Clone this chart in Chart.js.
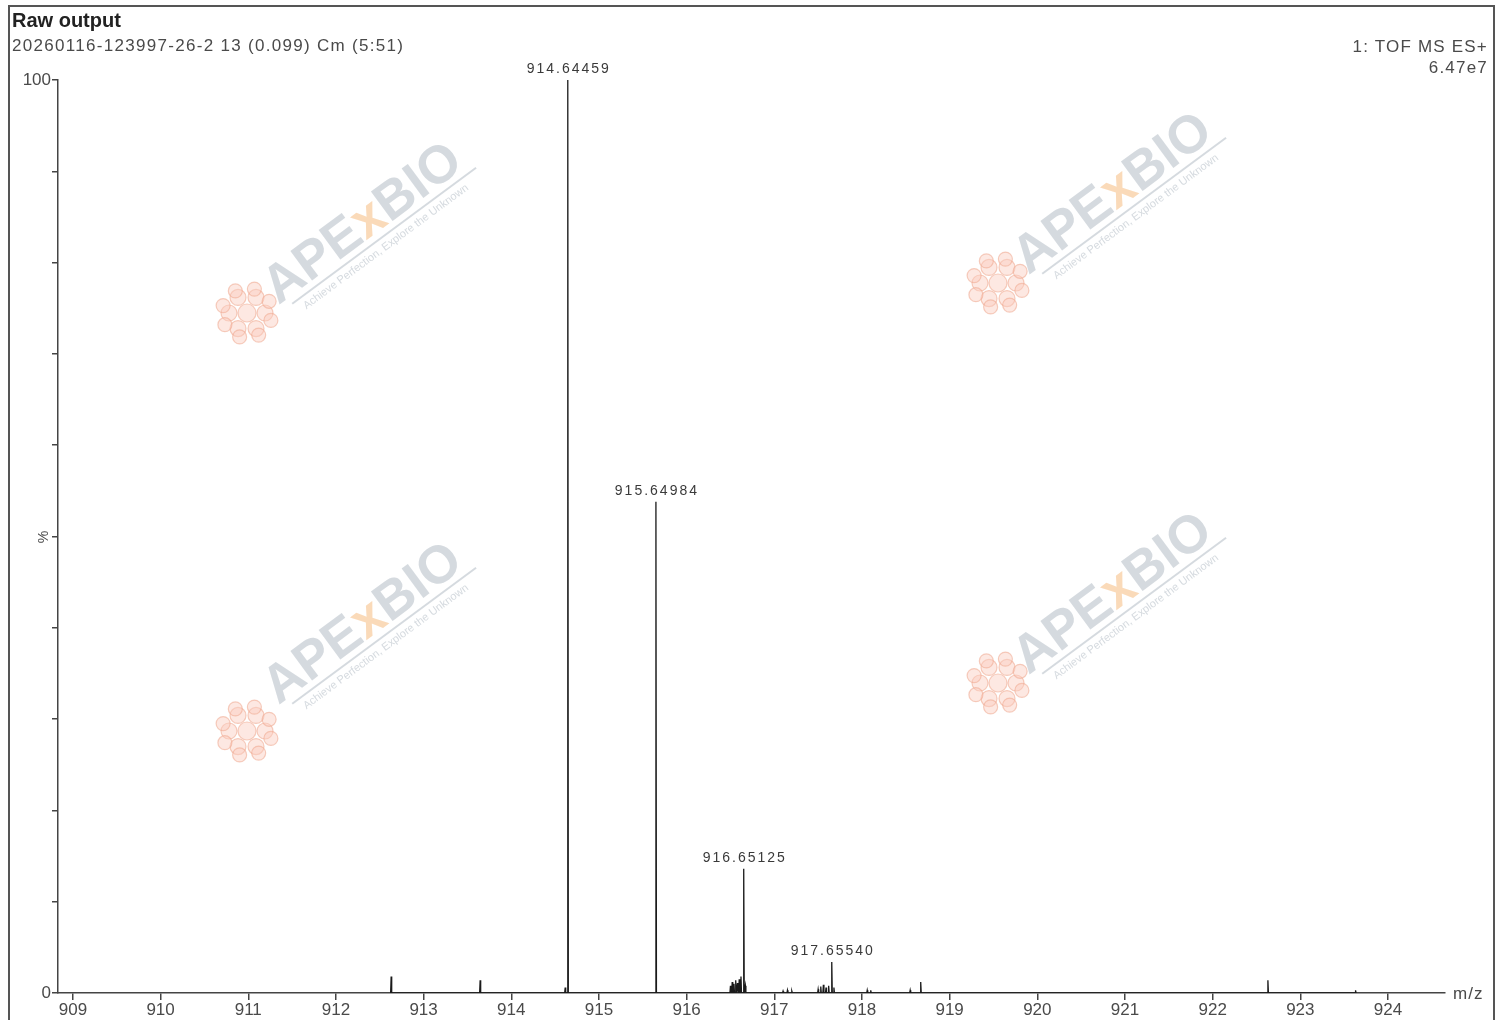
<!DOCTYPE html>
<html>
<head>
<meta charset="utf-8">
<script src="https://cdn.jsdelivr.net/npm/chart.js@4/dist/chart.umd.min.js"></script>
<style>
  html, body { margin: 0; padding: 0; background: #fff; }
  #wrap { position: relative; width: 1498px; height: 1020px; overflow: hidden; font-family: "Liberation Sans", Arial, sans-serif; }
  #frame { position: absolute; left: 8px; top: 5px; width: 1483px; height: 1030px; border: 2px solid #555; }
  #chartBox { position: absolute; left: 0; top: 0; width: 1498px; height: 1020px; }
  .txt { position: absolute; white-space: nowrap; color: #4a4a4a; }
  #title { left: 12px; top: 9px; font-size: 20px; font-weight: bold; color: #222; }
  #sub { left: 12px; top: 36px; font-size: 17px; letter-spacing: 1.3px; }
  #mode { right: 10px; top: 36px; font-size: 17px; text-align: right; line-height: 21px; letter-spacing: 1.2px; }
</style>
</head>
<body>
<div id="wrap">
  <div id="frame"></div>
  <div id="chartBox"><canvas id="msChart"></canvas></div>
  <div class="txt" id="title">Raw output</div>
  <div class="txt" id="sub">20260116-123997-26-2 13 (0.099) Cm (5:51)</div>
  <div class="txt" id="mode">1: TOF MS ES+<br>6.47e7</div>
</div>
<script>
// centroid sticks (m/z, % of base peak)
const mz = [912.63, 913.645, 914.615, 914.64459, 915.64984,
            916.50, 916.52, 916.54, 916.56, 916.58, 916.60, 916.62, 916.65125, 916.67,
            917.10, 917.15, 917.20,
            917.50, 917.53, 917.56, 917.59, 917.62, 917.65540, 917.68,
            918.06, 918.10, 918.55, 918.67, 922.63, 923.63];
const intensity = [1.8, 1.4, 0.6, 100, 53.8,
                   0.8, 1.2, 1.0, 1.4, 1.1, 1.5, 1.8, 13.6, 0.8,
                   0.2, 0.3, 0.2,
                   0.4, 0.7, 0.9, 0.6, 0.8, 3.4, 0.6,
                   0.3, 0.3, 0.3, 1.2, 1.4, 0.3];
const labelledPeaks = [914.64459, 915.64984, 916.65125, 917.65540];
const labelText = ['914.64459', '915.64984', '916.65125', '917.65540'];
const xTicks = [909, 910, 911, 912, 913, 914, 915, 916, 917, 918, 919, 920, 921, 922, 923, 924];
const yTicks = [0, 10, 20, 30, 40, 50, 60, 70, 80, 90, 100];

// turn each stick into a narrow peak on a zero baseline
const profile = [];
mz.forEach((m, i) => {
  profile.push({ x: m - 0.006, y: 0 });
  profile.push({ x: m, y: intensity[i] });
  profile.push({ x: m + 0.006, y: 0 });
});

const FONT = '"Liberation Sans", Arial, sans-serif';

function flower(c, fx, fy) {
  c.fillStyle = 'rgba(250,205,190,0.45)';
  c.strokeStyle = 'rgba(238,165,140,0.55)';
  c.lineWidth = 1.2;
  const rings = [[0, 9], [18, 8], [25, 7]];
  rings.forEach(([r, rad]) => {
    const n = r === 0 ? 1 : Math.round(r / 3.2);
    for (let k = 0; k < n; k++) {
      const a = k * Math.PI * 2 / n + (r > 20 ? 0.3 : 0);
      c.beginPath();
      c.arc(fx + Math.cos(a) * r, fy + Math.sin(a) * r, rad, 0, Math.PI * 2);
      c.fill();
      c.stroke();
    }
  });
}

const decor = {
  id: 'decor',
  beforeDatasetsDraw(chart) {
    const c = chart.ctx;
    const marks = [[366, 228, 247, 313], [1116, 198, 998, 283], [366, 628, 247, 731], [1116, 598, 998, 683]];
    marks.forEach(([tx, ty, fx, fy]) => {
      c.save();
      flower(c, fx, fy);
      c.translate(tx, ty);
      c.rotate(-36.5 * Math.PI / 180);
      c.font = 'bold 53px ' + FONT;
      c.textBaseline = 'alphabetic';
      const w1 = c.measureText('APE').width;
      const w2 = c.measureText('x').width;
      const w3 = c.measureText('BIO').width;
      const x0 = -(w1 + w2 + w3) / 2;
      c.fillStyle = 'rgba(188,196,204,0.62)';
      c.fillText('APE', x0, 10);
      c.fillStyle = 'rgba(248,198,148,0.65)';
      c.fillText('x', x0 + w1, 10);
      c.fillStyle = 'rgba(188,196,204,0.62)';
      c.fillText('BIO', x0 + w1 + w2, 10);
      c.fillRect(x0 + 12, 16, w1 + w2 + w3 - 4, 2);
      c.font = '11px ' + FONT;
      c.fillText('Achieve Perfection, Explore the Unknown', x0 + 20, 30);
      c.restore();
    });
  },
  afterDraw(chart) {
    const c = chart.ctx;
    const xs = chart.scales.x, ys = chart.scales.y;
    c.save();
    c.fillStyle = '#3a3a3a';
    c.font = '14px ' + FONT;
    c.letterSpacing = '2px';
    c.textAlign = 'center';
    c.textBaseline = 'bottom';
    labelledPeaks.forEach((m, i) => {
      const h = intensity[mz.indexOf(m)];
      c.fillText(labelText[i], xs.getPixelForValue(m) + 1, ys.getPixelForValue(h) - 4);
    });
    c.letterSpacing = '1px';
    c.fillStyle = '#4a4a4a';
    c.font = '17px ' + FONT;
    c.textAlign = 'left';
    c.textBaseline = 'middle';
    c.fillText('m/z', chart.chartArea.right + 8, ys.getPixelForValue(0) + 1);
    c.translate(44, ys.getPixelForValue(50));
    c.rotate(-Math.PI / 2);
    c.textAlign = 'center';
    c.font = '14px ' + FONT;
    c.fillText('%', 0, 0);
    c.restore();
  }
};

new Chart(document.getElementById('msChart'), {
  type: 'line',
  data: {
    datasets: [{
      data: profile,
      borderColor: '#1a1a1a',
      borderWidth: 1.3,
      pointRadius: 0,
      tension: 0,
      fill: false
    }]
  },
  options: {
    responsive: true,
    maintainAspectRatio: false,
    animation: false,
    layout: { padding: { left: 8, top: 80, right: 53, bottom: 0 } },
    plugins: { legend: { display: false }, tooltip: { enabled: false } },
    scales: {
      x: {
        type: 'linear',
        min: 908.83,
        max: 924.65,
        afterBuildTicks: (s) => { s.ticks = xTicks.map(v => ({ value: v })); },
        afterFit: (s) => { s.height = 27; },
        ticks: { color: '#4a4a4a', font: { family: FONT, size: 17 }, padding: 0, maxRotation: 0, autoSkip: false },
        grid: { drawOnChartArea: false, drawTicks: true, tickLength: 7, color: '#444', lineWidth: 1.5 },
        border: { display: true, color: '#444', width: 1.5 }
      },
      y: {
        min: 0,
        max: 100,
        afterBuildTicks: (s) => { s.ticks = yTicks.map(v => ({ value: v })); },
        afterFit: (s) => { s.width = 50; },
        ticks: {
          color: '#4a4a4a',
          font: { family: FONT, size: 17 },
          padding: 1,
          autoSkip: false,
          callback: (v) => (v === 0 || v === 100) ? String(v) : ''
        },
        grid: { drawOnChartArea: false, drawTicks: true, tickLength: 6, color: '#444', lineWidth: 1.5 },
        border: { display: true, color: '#444', width: 1.5 }
      }
    }
  },
  plugins: [decor]
});
</script>
</body>
</html>
